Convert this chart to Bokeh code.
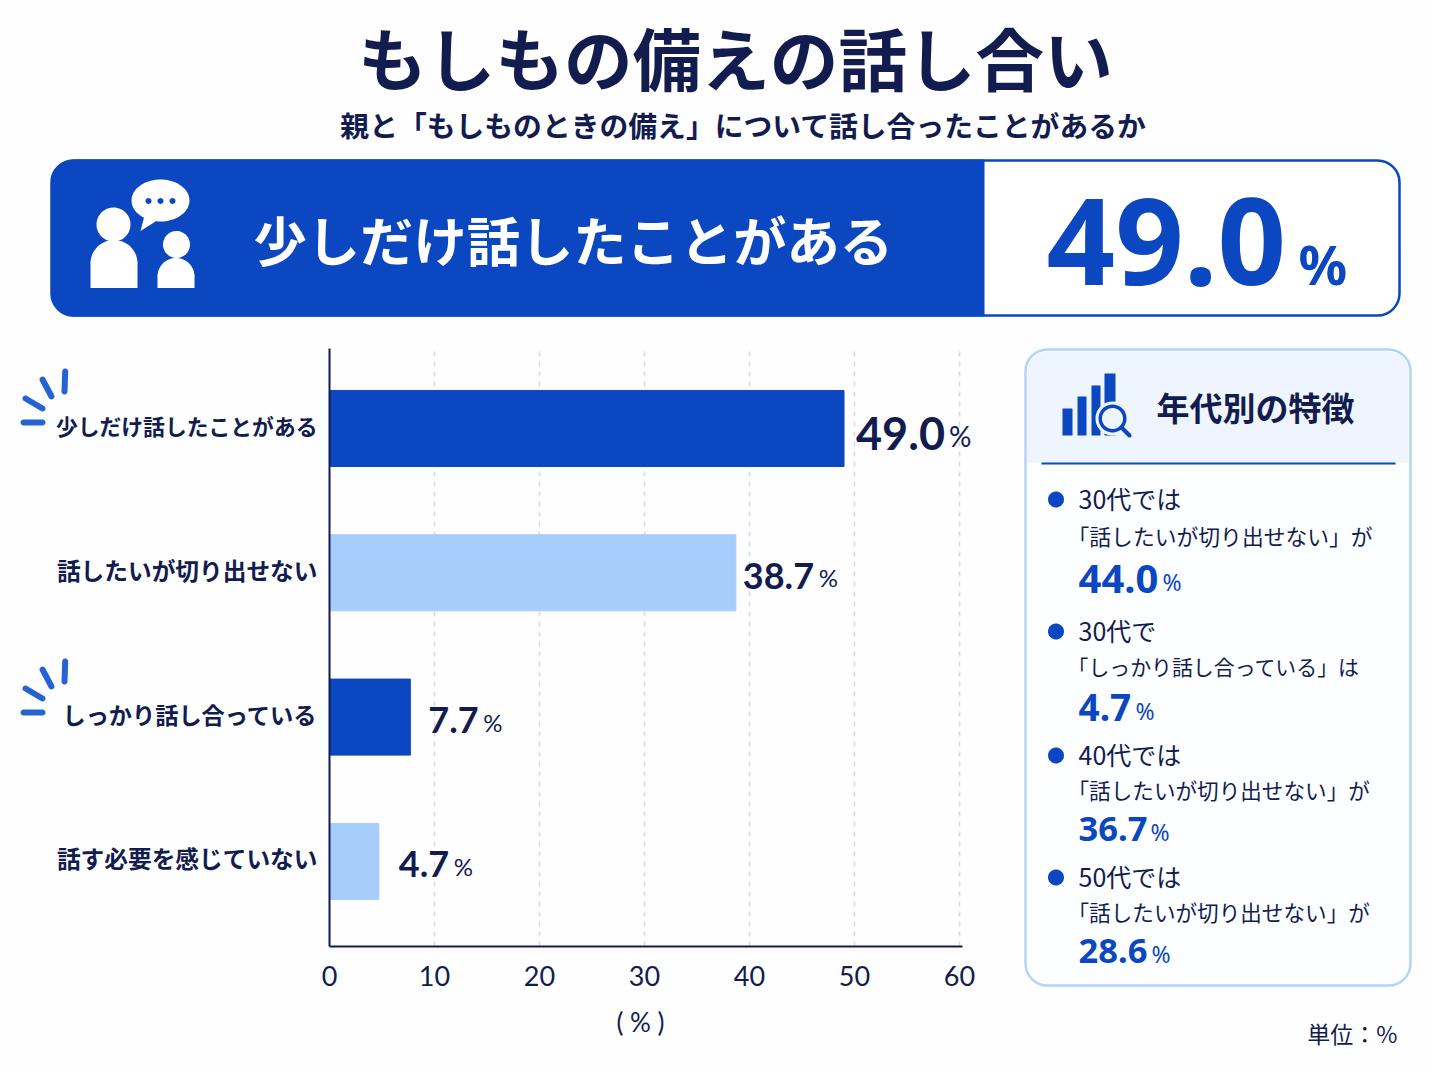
import numpy as np
from bokeh.core.properties import field, value
from bokeh.embed import file_html
from bokeh.resources import INLINE
from bokeh.plotting import figure
from bokeh.models import (ColumnDataSource, Range1d, FixedTicker, Label, LinearAxis,
                          BoxAnnotation, PolyAnnotation)

# ---- data ----
categories = ["少しだけ話したことがある", "話したいが切り出せない", "しっかり話し合っている", "話す必要を感じていない"]
values = [49.0, 38.7, 7.7, 4.7]
x_ticks = [0, 10, 20, 30, 40, 50, 60]
title_text = "もしもの備えの話し合い"
subtitle_text = "親と「もしものときの備え」について話し合ったことがあるか"
headline_label = "少しだけ話したことがある"
headline_value = "49.0"
panel_title = "年代別の特徴"
panel_line1 = ["30代では", "30代で", "40代では", "50代では"]
panel_line2 = ["「話したいが切り出せない」が", "「しっかり話し合っている」は", "「話したいが切り出せない」が", "「話したいが切り出せない」が"]
panel_values = ["44.0", "4.7", "36.7", "28.6"]

# ---- style ----
NAVY = "#121c4f"; BLUE = "#0a47c0"; LIGHT = "#a6cdfb"; MID = "#2563d4"
JP = "Noto Sans CJK JP"; LAT = "Noto Sans"; NUM = "Lato"
W, H = 1432, 1070
AXIS_X, AXIS_Y, AXIS_TOP = 329, 946, 348
PPU, ROW_PX, ROW0 = 10.5, 144.3, 428

p = figure(width=W, height=H, output_backend="svg", toolbar_location=None,
           x_range=Range1d(0, W), y_range=Range1d(H, 0),
           x_axis_type=None, y_axis_type=None,
           min_border=0, background_fill_color="#fefeff", border_fill_color="#fefeff",
           outline_line_color=None)
p.grid.visible = False
p.extra_x_ranges["val"] = Range1d(-AXIS_X / PPU, (W - AXIS_X) / PPU)
p.extra_y_ranges["cat"] = Range1d((H - ROW0) / ROW_PX, -ROW0 / ROW_PX)
y_low, y_high = (AXIS_Y - ROW0) / ROW_PX, (AXIS_TOP - ROW0) / ROW_PX


def poly(xs, ys, color):
    p.add_layout(PolyAnnotation(xs=list(xs), ys=list(ys), xs_units="canvas", ys_units="canvas",
                                fill_color=color, fill_alpha=1, line_color=None, level="annotation"))


def disc(cx, cy, r, color, n=48, a0=0.0, a1=2 * np.pi):
    t = np.linspace(a0, a1, n)
    poly(cx + r * np.cos(t), cy + r * np.sin(t), color)


def capsule(x0, y0, x1, y1, w, color):
    a = np.arctan2(y1 - y0, x1 - x0)
    t1 = np.linspace(a - np.pi / 2, a + np.pi / 2, 10)
    t0 = np.linspace(a + np.pi / 2, a + 3 * np.pi / 2, 10)
    poly(list(x1 + w / 2 * np.cos(t1)) + list(x0 + w / 2 * np.cos(t0)),
         list(y1 + w / 2 * np.sin(t1)) + list(y0 + w / 2 * np.sin(t0)), color)


def rect(l, t, r, b, color, radius=0, line=None, lw=0):
    p.add_layout(BoxAnnotation(left=l, right=r, top=t, bottom=b,
                               left_units="canvas", right_units="canvas", top_units="canvas", bottom_units="canvas",
                               fill_color=color, fill_alpha=1, line_color=line, line_alpha=1, line_width=lw,
                               border_radius=radius, level="annotation", editable=False))


def text(x, y, s, size, color=NAVY, font=JP, bold=False, align="left"):
    if font == JP:
        y -= size * 0.07  # CJK glyphs sit low on the middle baseline
    p.add_layout(Label(x=x, y=y, x_units="canvas", y_units="canvas", text=s,
                       text_font=font, text_font_size=f"{size}px", text_color=color,
                       text_font_style="bold" if bold else "normal",
                       text_align=align, text_baseline="middle", level="annotation"))


# ---- chart ----
rows = list(range(len(categories)))
src = ColumnDataSource(dict(
    row=rows, val=values, zero=[0 for _ in values], cat=categories,
    label=[f"{v:.1f}" for v in values],
    pct=["%" for _ in values],
    color=[BLUE, LIGHT, BLUE, LIGHT],
    lab_dx=[12, 7, 18, 20],
    lab_dy=[5, 3, 3, 3],
    pct_dx=[105, 83, 73, 75],
    pct_dy=[7, 5, 5, 5],
    lab_size=["45px", "36px", "36px", "36px"],
    pct_size=["28px", "24px", "24px", "24px"],
    cat_size=["21.8px", "23.7px", "23.2px", "23.7px"],
))
rng = dict(x_range_name="val", y_range_name="cat")
grid = p.segment(x0=x_ticks[1:], x1=x_ticks[1:], y0=[y_low] * 6, y1=[y_high] * 6, line_color="#d8dae4",
                 line_width=1.5, **rng)
grid.glyph.line_dash = [5, 5]
p.hbar(y="row", right="val", left=0, height=0.527, color="color", source=src, **rng)
p.text(x="val", y="row", text="label", x_offset="lab_dx", y_offset="lab_dy", source=src,
       text_font=value(NUM), text_font_style="bold", text_font_size=field("lab_size"), text_color=NAVY,
       text_baseline="middle", text_align="left", **rng)
p.text(x="val", y="row", text="pct", x_offset="pct_dx", y_offset="pct_dy", source=src,
       text_font=value(NUM), text_font_size=field("pct_size"), text_color=NAVY, text_baseline="middle",
       text_align="left", **rng)
p.text(x="zero", y="row", text="cat", x_offset=-12, y_offset=-3, source=src,
       text_font=value(JP), text_font_style="bold", text_font_size=field("cat_size"), text_color=NAVY,
       text_baseline="middle", text_align="right", **rng)

xax = LinearAxis(x_range_name="val", ticker=FixedTicker(ticks=x_ticks), fixed_location=AXIS_Y, bounds=(0, 60.3))
xax.axis_line_color = NAVY
xax.axis_line_width = 2
xax.major_tick_line_color = None
xax.minor_tick_line_color = None
xax.major_label_text_font = NUM
xax.major_label_text_font_size = "27px"
xax.major_label_text_color = NAVY
xax.major_label_standoff = 13
p.add_layout(xax, "below")

yax = LinearAxis(y_range_name="cat", ticker=FixedTicker(ticks=[]), fixed_location=AXIS_X, bounds=(y_high, y_low))
yax.axis_line_color = NAVY
yax.axis_line_width = 2
yax.major_tick_line_color = None
yax.minor_tick_line_color = None
p.add_layout(yax, "left")

text(640, 1021, "( % )", 26, font=NUM, align="center")
text(1397, 1034, "単位：%", 23, align="right")

# ---- header ----
text(735, 60, title_text, 68.6, bold=True, align="center")
text(743, 126, subtitle_text, 28.8, bold=True, align="center")

# ---- banner ----
rect(51, 160, 1399, 315, "#ffffff", radius=22, line=BLUE, lw=2.5)
rect(51, 159, 984, 316, BLUE, radius=(22, 0, 0, 22))
text(253, 242, headline_label, 53.3, color="#ffffff", bold=True)
text(1046, 241, headline_value, 120, color=BLUE, font=LAT, bold=True)
text(1298, 263, "%", 54, color=BLUE, font=LAT, bold=True)

# people icon
disc(113, 224, 17, "#ffffff")
disc(113.5, 263, 23.5, "#ffffff", a0=np.pi, a1=2 * np.pi)
rect(90, 262, 137, 287.5, "#ffffff")
disc(176, 244, 13.5, "#ffffff")
disc(175.5, 276, 18.5, "#ffffff", a0=np.pi, a1=2 * np.pi)
rect(157, 275, 194, 287.5, "#ffffff")
t = np.linspace(0, 2 * np.pi, 48)
poly(160 + 29 * np.cos(t), 200 + 21 * np.sin(t), "#ffffff")
poly([144, 155, 140], [215, 221, 230.5], "#ffffff")
for dx in (148, 160, 172):
    disc(dx, 200.5, 3, BLUE, n=16)

# ---- side panel ----
rect(1025, 349, 1410, 985, "#fdfeff", radius=22, line="#b5d3f8", lw=2.5)
rect(1027, 351, 1408, 462, "#eef5fe", radius=(20, 20, 0, 0))
rect(1041, 462, 1395, 464, BLUE)
text(1156, 409, panel_title, 33, bold=True)
for l, tp, r in [(1062, 408, 1072), (1077, 396, 1086), (1091, 385, 1100), (1104, 373, 1115)]:
    rect(l, tp, r, 435, BLUE)
disc(1112, 418, 17, "#eef5fe")
disc(1112, 418, 14, BLUE)
disc(1112, 418, 10.5, "#eef5fe")
capsule(1121, 427, 1129, 435, 4, BLUE)

panel_rows = [(499, 537, 578), (631, 667, 707), (755, 791, 828), (877, 913, 950)]
pct_x = [1162, 1135, 1150, 1151]
line2_size = [21.8, 20.9, 21.6, 21.6]
value_size = [40, 37, 34.5, 34.5]
for (y1, y2, y3), a, b, c, px, s2, s3 in zip(panel_rows, panel_line1, panel_line2, panel_values,
                                             pct_x, line2_size, value_size):
    disc(1055.5, y1, 8, BLUE, n=32)
    text(1078, y1, a, 25)
    text(1067, y2, b, s2)
    text(1078, y3, c, s3, color=BLUE, font=LAT, bold=True)
    text(px, y3 + 3, "%", 23, color=BLUE, font=LAT)

# ---- accent bursts ----
for off in (0, 290):
    capsule(64.7, 371 + off, 64, 391 + off, 6, MID)
    capsule(42, 379 + off, 51, 396 + off, 6, MID)
    capsule(25, 398 + off, 42, 408 + off, 6, MID)
    capsule(23, 422 + off, 42, 422 + off, 6, MID)

open("out.html", "w").write(file_html(p, INLINE))
